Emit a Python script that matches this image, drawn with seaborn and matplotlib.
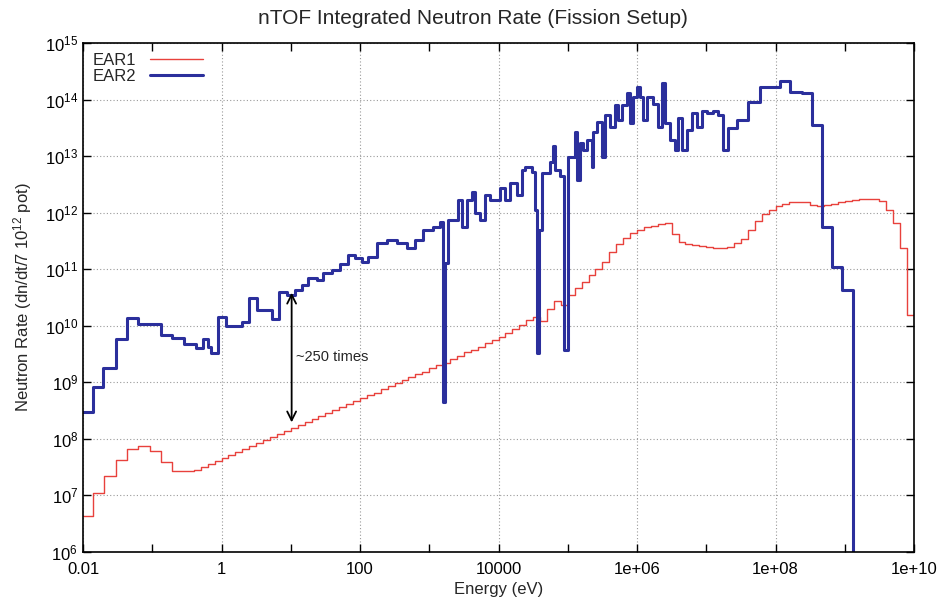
import numpy as np
import matplotlib
matplotlib.use("Agg")
import matplotlib.pyplot as plt
from matplotlib.ticker import FixedLocator, NullLocator, NullFormatter
import seaborn as sns

# EAR2 histogram: bin edges (log10 E [eV]) and rates (log10)
ear2_log_e = [
    -2.0, -1.86, -1.707, -1.528, -1.369, -1.201, -0.874, -0.710, -0.537, -0.373,
    -0.263, -0.191, -0.152, -0.055, 0.061, 0.292, 0.397, 0.508, 0.725, 0.830,
    0.942, 1.061, 1.158, 1.254, 1.375, 1.470, 1.591, 1.711, 1.831, 1.928,
    2.024, 2.120, 2.241, 2.386, 2.530, 2.675, 2.794, 2.914, 3.059, 3.155,
    3.195, 3.225, 3.275, 3.420, 3.468, 3.541, 3.613, 3.661, 3.733, 3.805,
    3.877, 4.022, 4.094, 4.166, 4.263, 4.335, 4.383, 4.480, 4.527, 4.552,
    4.590, 4.624, 4.744, 4.792, 4.816, 4.888, 4.946, 5.008, 5.105, 5.129,
    5.177, 5.225, 5.274, 5.346, 5.370, 5.418, 5.490, 5.538, 5.610, 5.682,
    5.730, 5.779, 5.851, 5.899, 5.947, 5.996, 6.043, 6.091, 6.140, 6.236,
    6.308, 6.357, 6.404, 6.477, 6.549, 6.597, 6.645, 6.718, 6.790, 6.862,
    6.934, 7.006, 7.102, 7.174, 7.247, 7.319, 7.440, 7.607, 7.776, 8.065,
    8.209, 8.378, 8.523, 8.667, 8.812, 8.956, 9.123, 9.3,
]
ear2_log_rate = [
    8.48, 8.91, 9.25, 9.76, 10.13, 10.03, 9.84, 9.78, 9.67, 9.60,
    9.76, 9.63, 9.52, 10.16, 10.00, 10.07, 10.49, 10.28, 10.12, 10.59,
    10.54, 10.63, 10.72, 10.85, 10.81, 10.93, 10.99, 11.10, 11.25, 11.19,
    11.13, 11.22, 11.46, 11.52, 11.46, 11.37, 11.52, 11.69, 11.75, 11.84,
    8.66, 11.11, 11.87, 12.22, 11.75, 12.22, 12.37, 11.99, 11.87, 12.31,
    12.22, 12.43, 12.22, 12.52, 12.31, 12.75, 12.81, 12.72, 12.05, 9.51,
    11.69, 12.70, 12.90, 13.17, 12.75, 12.64, 9.57, 12.99, 13.43, 12.58,
    13.23, 13.11, 13.28, 12.81, 13.43, 13.61, 12.99, 13.73, 13.52, 13.90,
    13.64, 13.90, 14.11, 13.58, 14.05, 14.23, 14.05, 13.64, 14.05, 13.93,
    13.52, 14.29, 13.58, 13.28, 13.11, 13.67, 13.11, 13.46, 13.76, 13.52,
    13.79, 13.76, 13.79, 13.73, 13.11, 13.49, 13.64, 13.96, 14.23, 14.32,
    14.14, 14.11, 13.55, 11.75, 11.04, 10.63, 3.0,
]

# EAR1 histogram
ear1_log_e = [
    -2.0, -1.85, -1.70, -1.53, -1.37, -1.20, -1.03, -0.87, -0.71,
    -0.4, -0.3, -0.2, -0.1, 0.0, 0.1, 0.2, 0.3, 0.4, 0.5,
    0.6, 0.7, 0.8, 0.9, 1.0, 1.1, 1.2, 1.3, 1.4, 1.5,
    1.6, 1.7, 1.8, 1.9, 2.0, 2.1, 2.2, 2.3, 2.4, 2.5,
    2.6, 2.7, 2.8, 2.9, 3.0, 3.1, 3.2, 3.3, 3.4, 3.5,
    3.6, 3.7, 3.8, 3.9, 4.0, 4.1, 4.2, 4.3, 4.4, 4.5,
    4.6, 4.7, 4.8, 4.9, 5.0, 5.1, 5.2, 5.3, 5.4, 5.5,
    5.6, 5.7, 5.8, 5.9, 6.0, 6.1, 6.2, 6.3, 6.4, 6.5,
    6.6, 6.7, 6.8, 6.9, 7.0, 7.1, 7.2, 7.3, 7.4, 7.5,
    7.6, 7.7, 7.8, 7.9, 8.0, 8.1, 8.2, 8.3, 8.4, 8.5,
    8.6, 8.7, 8.8, 8.9, 9.0, 9.1, 9.2, 9.3, 9.4, 9.5,
    9.6, 9.7, 9.8, 9.9, 10.0,
]
ear1_log_rate = [
    6.64, 7.04, 7.35, 7.63, 7.82, 7.87, 7.79, 7.60, 7.44,
    7.45, 7.50, 7.55, 7.61, 7.66, 7.71, 7.76, 7.82, 7.87, 7.92,
    7.98, 8.03, 8.08, 8.14, 8.19, 8.24, 8.30, 8.35, 8.40, 8.45,
    8.51, 8.56, 8.61, 8.67, 8.72, 8.77, 8.82, 8.88, 8.93, 8.98,
    9.04, 9.09, 9.14, 9.19, 9.25, 9.30, 9.35, 9.41, 9.47, 9.53,
    9.58, 9.63, 9.69, 9.74, 9.80, 9.87, 9.94, 10.02, 10.10, 10.16,
    10.08, 10.30, 10.44, 10.36, 10.55, 10.66, 10.78, 10.90, 11.00, 11.12,
    11.30, 11.44, 11.56, 11.64, 11.70, 11.74, 11.77, 11.80, 11.82, 11.62,
    11.48, 11.44, 11.42, 11.41, 11.40, 11.38, 11.37, 11.40, 11.47, 11.53,
    11.69, 11.86, 11.97, 12.05, 12.11, 12.15, 12.19, 12.19, 12.18, 12.14,
    12.11, 12.13, 12.16, 12.18, 12.21, 12.23, 12.24, 12.25, 12.25, 12.20,
    12.05, 11.82, 11.38, 10.19,
]

x_major = [1e-2, 1e0, 1e2, 1e4, 1e6, 1e8, 1e10]
x_major_labels = ["0.01", "1", "100", "10000", "1e+06", "1e+08", "1e+10"]
x_minor = [1e-1, 1e1, 1e3, 1e5, 1e7, 1e9]
y_exponents = list(range(6, 16))


def to_steps(log_e, log_rate):
    # repeat the last value so steps-post closes the final bin
    x = 10.0 ** np.array(log_e)
    y = 10.0 ** np.array(log_rate + [log_rate[-1]])
    return x, y


sns.set_style("ticks")
plt.rcParams['font.family'] = ['Liberation Sans', 'DejaVu Sans']
plt.rcParams['mathtext.default'] = 'regular'

fig = plt.figure(figsize=(9.46, 6.13), dpi=100)
ax = fig.add_axes([83 / 946, 61 / 613, 831 / 946, 509 / 613])

x1, y1 = to_steps(ear1_log_e, ear1_log_rate)
x2, y2 = to_steps(ear2_log_e, ear2_log_rate)

sns.lineplot(x=x1, y=y1, ax=ax, drawstyle="steps-post", sort=False, estimator=None,
             color="#e8413c", linewidth=1.0, label="EAR1")
sns.lineplot(x=x2, y=y2, ax=ax, drawstyle="steps-post", sort=False, estimator=None,
             color="#2b2f9c", linewidth=2.2, label="EAR2")

ax.set_xscale("log")
ax.set_yscale("log")
ax.set_xlim(1e-2, 1e10)
ax.set_ylim(1e6, 1e15)

ax.xaxis.set_major_locator(FixedLocator(x_major))
ax.xaxis.set_minor_locator(FixedLocator(x_minor))
ax.xaxis.set_minor_formatter(NullFormatter())
ax.set_xticklabels(x_major_labels)
ax.yaxis.set_major_locator(FixedLocator([10.0 ** e for e in y_exponents]))
ax.yaxis.set_minor_locator(NullLocator())
ax.set_yticklabels([r"$10^{%d}$" % e for e in y_exponents])

ax.tick_params(which="both", direction="in", top=True, right=True, length=6,
               width=1, labelsize=12, colors="black")
ax.tick_params(axis="x", pad=7)
ax.grid(which="major", linestyle=(0, (1, 2)), color="#9a9a9a", linewidth=0.8)
for s in ax.spines.values():
    s.set_linewidth(1.2)
    s.set_color("black")

ax.set_xlabel("Energy (eV)", fontsize=12)
ax.set_ylabel(r"Neutron Rate (dn/dt/7 10$^{12}$ pot)", fontsize=12, labelpad=8)
fig.suptitle("nTOF Integrated Neutron Rate (Fission Setup)", x=0.5, y=0.985,
             fontsize=15)

# arrow showing the EAR2 / EAR1 gap
ax.annotate("", xy=(10.3, 1.75e8), xytext=(10.3, 4.3e10),
            arrowprops=dict(arrowstyle="<->", color="black", lw=1.3,
                            mutation_scale=16))
ax.text(12.0, 2.8e9, "~250 times", fontsize=10.5, va="center", ha="left")

ax.legend(loc="upper left", frameon=False, markerfirst=False, fontsize=12,
          handlelength=3.2, labelspacing=0.05, borderaxespad=0.2,
          handletextpad=0.8)

fig.savefig("out.png", dpi=100)
